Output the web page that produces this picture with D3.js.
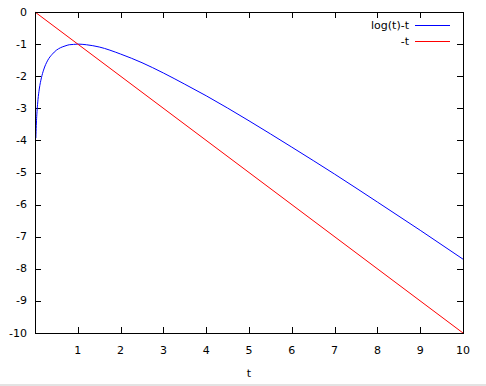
<!DOCTYPE html>
<html>
<head>
<meta charset="utf-8">
<script src="https://cdn.jsdelivr.net/npm/d3@7"></script>
<style>
  html, body { margin: 0; padding: 0; background: #fff; }
  svg { display: block; }
  text { font-family: "DejaVu Sans", sans-serif; font-size: 11px; fill: #000; }
</style>
</head>
<body>
<div id="chart"></div>
<script>
// valores
const xTicks = [1, 2, 3, 4, 5, 6, 7, 8, 9, 10];
const yTicks = [0, -1, -2, -3, -4, -5, -6, -7, -8, -9, -10];
const tLog = [0.02, 0.03, 0.05, 0.07, 0.1, 0.15, 0.2, 0.3, 0.4, 0.5, 0.6, 0.7, 0.8, 0.9, 1.0, 1.2, 1.5, 2, 2.5, 3, 3.5, 4, 5, 6, 7, 8, 9, 10];
const yLog = [-3.93, -3.54, -3.05, -2.73, -2.40, -2.05, -1.81, -1.50, -1.32, -1.19, -1.11, -1.06, -1.02, -1.01, -1.0, -1.02, -1.09, -1.31, -1.58, -1.90, -2.25, -2.61, -3.39, -4.21, -5.05, -5.92, -6.80, -7.70];
const tNeg = [0, 10];
const yNeg = [0, -10];
const series = [
  { nombre: "log(t)-t", color: "#0000ff", t: tLog, y: yLog },
  { nombre: "-t", color: "#ff0000", t: tNeg, y: yNeg }
];

const width = 486, height = 386;
const margen = { left: 35, right: 23, top: 12, bottom: 53 };

const svg = d3.select("#chart").append("svg")
  .attr("width", width)
  .attr("height", height);

const x = d3.scaleLinear().domain([0, 10]).range([margen.left, width - margen.right]);
const y = d3.scaleLinear().domain([-10, 0]).range([height - margen.bottom, margen.top]);

const tick = 6;
const ejes = svg.append("g").attr("stroke", "#000").attr("stroke-width", 1);

// marcas en los cuatro lados (estilo gnuplot)
xTicks.forEach(v => {
  const px = Math.round(x(v)) + 0.5;
  ejes.append("line").attr("x1", px).attr("x2", px)
    .attr("y1", y(-10)).attr("y2", y(-10) - tick);
  ejes.append("line").attr("x1", px).attr("x2", px)
    .attr("y1", y(0)).attr("y2", y(0) + tick);
});
yTicks.forEach(v => {
  const py = Math.round(y(v)) + 0.5;
  ejes.append("line").attr("y1", py).attr("y2", py)
    .attr("x1", x(0)).attr("x2", x(0) + tick);
  ejes.append("line").attr("y1", py).attr("y2", py)
    .attr("x1", x(10)).attr("x2", x(10) - tick);
});

// curvas
const linea = d3.line()
  .x(d => x(d[0]))
  .y(d => y(d[1]))
  .curve(d3.curveMonotoneX);

svg.append("g").selectAll("path")
  .data(series)
  .join("path")
  .attr("fill", "none")
  .attr("stroke", d => d.color)
  .attr("stroke-width", 1)
  .attr("d", d => linea(d.t.map((t, i) => [t, d.y[i]])));

// marco
svg.append("rect")
  .attr("x", Math.round(x(0)) + 0.5)
  .attr("y", Math.round(y(0)) + 0.5)
  .attr("width", Math.round(x(10)) - Math.round(x(0)))
  .attr("height", Math.round(y(-10)) - Math.round(y(0)))
  .attr("fill", "none")
  .attr("stroke", "#000");

// etiquetas
svg.append("g").selectAll("text")
  .data(xTicks)
  .join("text")
  .attr("x", d => x(d))
  .attr("y", 350)
  .attr("text-anchor", "middle")
  .attr("dominant-baseline", "central")
  .text(d => d);

svg.append("g").selectAll("text")
  .data(yTicks)
  .join("text")
  .attr("x", 27)
  .attr("y", d => y(d))
  .attr("text-anchor", "end")
  .attr("dominant-baseline", "central")
  .text(d => d);

svg.append("text")
  .attr("x", x(5))
  .attr("y", 373)
  .attr("text-anchor", "middle")
  .attr("dominant-baseline", "central")
  .text("t");

// leyenda
const leyenda = svg.append("g").selectAll("g")
  .data(series)
  .join("g")
  .attr("transform", (d, i) => `translate(0, ${25 + i * 16})`);
leyenda.append("text")
  .attr("x", 409)
  .attr("text-anchor", "end")
  .attr("dominant-baseline", "central")
  .text(d => d.nombre);
leyenda.append("line")
  .attr("x1", 415).attr("x2", 450)
  .attr("y1", 0.5).attr("y2", 0.5)
  .attr("stroke", d => d.color);

// borde gris inferior
svg.append("rect")
  .attr("x", 0).attr("y", 384)
  .attr("width", width).attr("height", 2)
  .attr("fill", "#e3e3e3");
</script>
</body>
</html>
